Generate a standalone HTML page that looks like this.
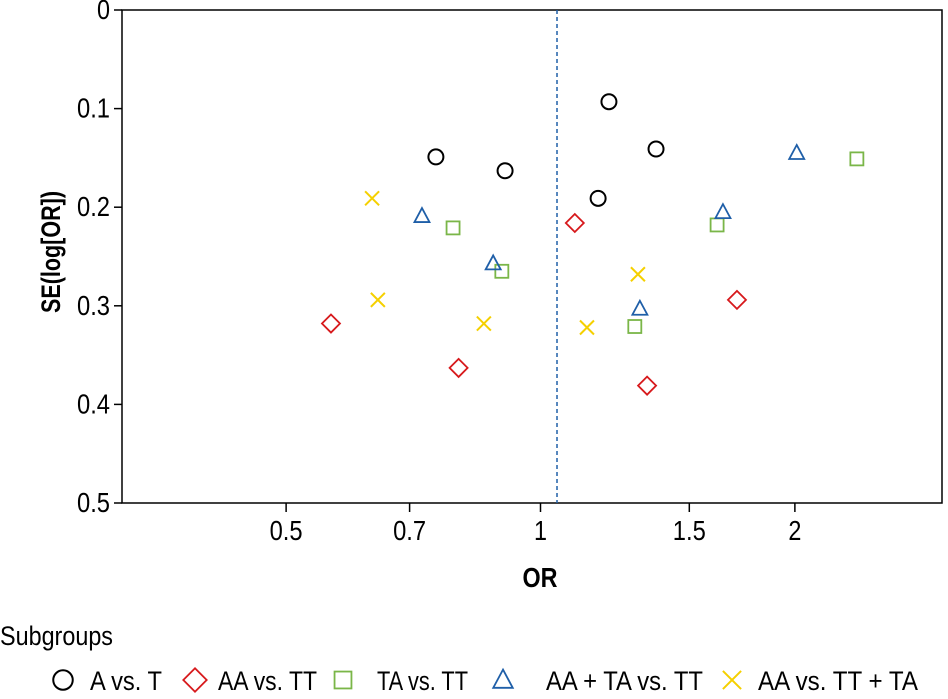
<!DOCTYPE html>
<html><head><meta charset="utf-8"><style>
body{margin:0;background:#fff;}
svg text{font-family:"Liberation Sans",sans-serif;}
</style></head><body>
<svg id="chart" width="948" height="694" xmlns="http://www.w3.org/2000/svg">
<rect x="122" y="10" width="820" height="493" fill="none" stroke="#000" stroke-width="1.5"/>
<g id="axes"></g>
<g id="marks"></g>
<text x="60" y="252" font-size="27" font-weight="bold" text-anchor="middle" textLength="122" lengthAdjust="spacingAndGlyphs" transform="rotate(-90 60 252)">SE(log[OR])</text>
<text x="540" y="587" font-size="28" font-weight="bold" text-anchor="middle" textLength="35" lengthAdjust="spacingAndGlyphs">OR</text>
<text x="0" y="645" font-size="27" textLength="113" lengthAdjust="spacingAndGlyphs">Subgroups</text>
<g id="legend"></g>
</svg>
<script>
const xTicks=[0.5,0.7,1,1.5,2];
const yTicks=[0,0.1,0.2,0.3,0.4,0.5];
const refOR=1.046;
const orCircle=[0.752,0.908,1.205,1.37,1.17];
const seCircle=[0.149,0.163,0.093,0.141,0.191];
const orDiamond=[0.565,0.80,1.098,1.708,1.337];
const seDiamond=[0.318,0.363,0.216,0.294,0.381];
const orSquare=[0.788,0.90,1.293,1.618,2.368];
const seSquare=[0.221,0.265,0.321,0.218,0.151];
const orTriangle=[0.724,0.879,1.311,1.644,2.01];
const seTriangle=[0.209,0.257,0.303,0.205,0.145];
const orCross=[0.632,0.642,0.857,1.135,1.304];
const seCross=[0.191,0.294,0.318,0.322,0.268];
const legendLabels=["A vs. T","AA vs. TT","TA vs. TT","AA + TA vs. TT","AA vs. TT + TA"];

const NS="http://www.w3.org/2000/svg";
const X=v=>540.5+367*Math.log(v);
const Y=v=>10+986*v;
function mk(tag,attrs,parent){const e=document.createElementNS(NS,tag);for(const k in attrs)e.setAttribute(k,attrs[k]);parent.appendChild(e);return e;}
function tl(s){let w=0;for(const c of s)w+=(c==='.')?7:13;return w;}
const axes=document.getElementById('axes'),marks=document.getElementById('marks'),legend=document.getElementById('legend');
xTicks.forEach(t=>{
  const l=mk('line',{x1:X(t),x2:X(t),y1:503,y2:512,stroke:'#000','stroke-width':1.5},axes);
  
  
  const s=String(t);
  const tx=mk('text',{x:X(t),y:540,'font-size':28,'text-anchor':'middle',textLength:tl(s),lengthAdjust:'spacingAndGlyphs'},axes);tx.textContent=s;
  
  
});
yTicks.forEach(t=>{
  const l=mk('line',{x1:114,x2:122,y1:Y(t),y2:Y(t),stroke:'#000','stroke-width':1.5},axes);
  
  
  const s=String(t);
  const tx=mk('text',{x:110,y:Y(t)+9,'font-size':28,'text-anchor':'end',textLength:tl(s),lengthAdjust:'spacingAndGlyphs'},axes);tx.textContent=s;
  
  
});
const rl=mk('line',{x1:X(refOR),x2:X(refOR),y1:10,y2:503,stroke:'#1f5fa8','stroke-width':1.5,'stroke-dasharray':'4,3'},axes);



function shape(kind,cx,cy,parent,sc){
  sc=sc||1;
  let e;
  if(kind===0) e=mk('circle',{cx,cy,r:7.5*sc,fill:'none',stroke:'#000','stroke-width':2},parent);
  else if(kind===1) e=mk('polygon',{points:`${cx},${cy-9*sc} ${cx+9*sc},${cy} ${cx},${cy+9*sc} ${cx-9*sc},${cy}`,fill:'none',stroke:'#d7191c','stroke-width':1.8},parent);
  else if(kind===2) e=mk('rect',{x:cx-6.5*sc,y:cy-6.5*sc,width:13*sc,height:13*sc,fill:'none',stroke:'#7ab648','stroke-width':1.8},parent);
  else if(kind===3) e=mk('polygon',{points:`${cx},${cy-8*sc} ${cx+7.5*sc},${cy+6*sc} ${cx-7.5*sc},${cy+6*sc}`,fill:'none',stroke:'#1f5fa8','stroke-width':1.8},parent);
  else {e=mk('path',{d:`M${cx-7*sc},${cy-7*sc}L${cx+7*sc},${cy+7*sc}M${cx+7*sc},${cy-7*sc}L${cx-7*sc},${cy+7*sc}`,stroke:'#f5d000','stroke-width':2,fill:'none'},parent);}
  return e;
}
const series=[[orCircle,seCircle],[orDiamond,seDiamond],[orSquare,seSquare],[orTriangle,seTriangle],[orCross,seCross]];
const names=['circle','diamond','square','triangle','cross'];
series.forEach((s,k)=>{
  s[0].forEach((o,i)=>{
    const e=shape(k,X(o),Y(s[1][i]),marks);
    
    
  });
});
const lx=[63,195,343,503,732];
const tx0=[90,218,377,546,758];
const tw=[72,99,91,157,160];
legendLabels.forEach((lab,k)=>{
  const e=shape(k,lx[k],680,legend,1.3);
  
  
  const t=mk('text',{x:tx0[k],y:690,'font-size':27,textLength:tw[k],lengthAdjust:'spacingAndGlyphs'},legend);t.textContent=lab;
  
  
});
</script>
</body></html>
